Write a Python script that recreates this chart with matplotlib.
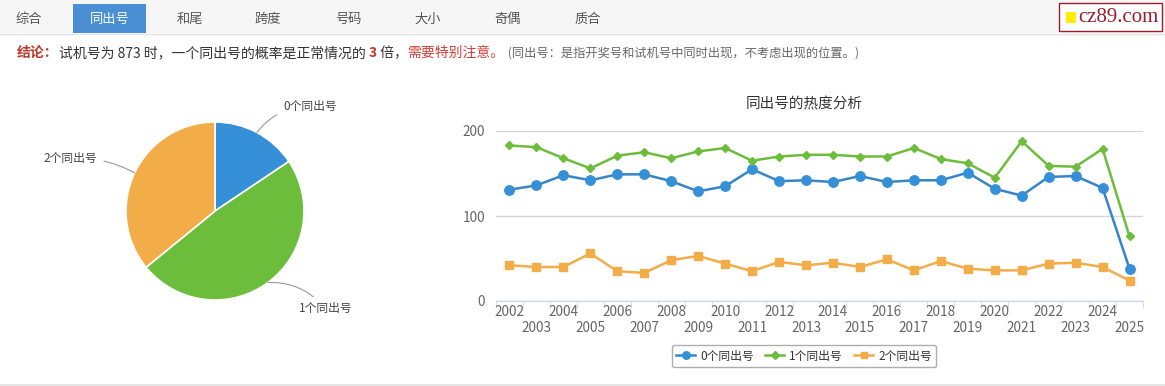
import matplotlib
matplotlib.use("Agg")
import matplotlib.pyplot as plt
from matplotlib.patches import Rectangle
from matplotlib.lines import Line2D
import matplotlib.transforms as mtrans
import numpy as np

plt.rcParams['font.family'] = ['Noto Sans CJK SC', 'DejaVu Sans']

# ---- data ----
tabs = ['综合', '同出号', '和尾', '跨度', '号码', '大小', '奇偶', '质合']
tab_x = [29, 110, 190, 268, 348, 428, 508, 588]

pie_labels = ['0个同出号', '1个同出号', '2个同出号']
pie_values = [15.6, 48.5, 35.9]

years = [str(y) for y in range(2002, 2026)]
same0 = [131, 136, 148, 142, 149, 149, 141, 129, 135, 155, 141, 142,
         140, 147, 140, 142, 142, 151, 132, 124, 146, 147, 133, 38]
same1 = [183, 181, 168, 156, 171, 175, 168, 176, 180, 165, 170, 172,
         172, 170, 170, 180, 167, 162, 145, 188, 159, 158, 179, 76]
same2 = [42, 40, 40, 56, 35, 33, 48, 53, 44, 35, 46, 42,
         45, 40, 49, 36, 47, 38, 36, 36, 44, 45, 40, 24]

BLUE = '#3590d8'
GREEN = '#6dbd3d'
ORANGE = '#f3ad48'
W, H = 1165, 386


def fx(x):
    return x / W


def fy(y):
    return 1 - y / H


fig = plt.figure(figsize=(W / 100, H / 100), dpi=100)
fig.patch.set_facecolor('white')

# ---- tab bar ----
fig.patches.append(Rectangle((0, fy(33)), 1, 33 / H, transform=fig.transFigure,
                             facecolor='#f6f6f6', edgecolor='none', zorder=0))
fig.add_artist(Line2D([0, 1], [fy(33.5), fy(33.5)], color='#e2e2e2', lw=1))
fig.add_artist(Line2D([0, 1], [fy(385), fy(385)], color='#e2e2e2', lw=1.2))
fig.patches.append(Rectangle((fx(73), fy(33)), 73 / W, 29 / H, transform=fig.transFigure,
                             facecolor='#4a8fd4', edgecolor='none', zorder=1))
for name, x in zip(tabs, tab_x):
    fig.text(fx(x), fy(19), name, ha='center', va='center', fontsize=9.5,
             color='white' if name == '同出号' else '#555555', zorder=3)

# logo
fig.patches.append(Rectangle((fx(1059), fy(31)), 103 / W, 28 / H, transform=fig.transFigure,
                             facecolor='white', edgecolor='#9b1c2c', lw=1, zorder=2))
fig.patches.append(Rectangle((fx(1066), fy(23)), 10 / W, 11 / H, transform=fig.transFigure,
                             facecolor='#ffee00', edgecolor='none', zorder=3))
fig.text(fx(1078), fy(17), 'cz89.com', ha='left', va='center', fontsize=15,
         family='Liberation Serif', color='#9b1c2c', zorder=4)

# ---- conclusion line ----
renderer = fig.canvas.get_renderer()
pieces = [
    ('结论：', '#c0392b', 'bold', 10),
    ('试机号为 873 时，一个同出号的概率是正常情况的 ', '#333333', 'normal', 10),
    ('3', '#c0392b', 'bold', 10),
    (' 倍，', '#333333', 'normal', 10),
    ('需要特别注意。', '#d0403a', 'normal', 10),
    (' (同出号：是指开奖号和试机号中同时出现，不考虑出现的位置。)', '#666666', 'normal', 8.8),
]
xpos = fx(17)
for s, c, w, fs in pieces:
    t = fig.text(xpos, fy(53), s, ha='left', va='center', color=c, fontweight=w, fontsize=fs)
    bb = t.get_window_extent(renderer=renderer)
    xpos += bb.width / W

# ---- pie ----
cx, cy, r = 215, 211, 89
pax = fig.add_axes([fx(cx - r), fy(cy + r), 2 * r / W, 2 * r / H])
wedges, _ = pax.pie(pie_values, colors=[BLUE, GREEN, ORANGE], startangle=90,
                    counterclock=False, radius=1,
                    wedgeprops=dict(edgecolor='white', linewidth=1.2))
pax.set_xlim(-1, 1)
pax.set_ylim(-1, 1)
pax.set_aspect('equal')
pax.axis('off')

label_offsets = [(19, 18.5), (22, -19), (-27, 10)]
for wdg, lab, off in zip(wedges, pie_labels, label_offsets):
    ang = np.deg2rad((wdg.theta1 + wdg.theta2) / 2)
    px, py = np.cos(ang), np.sin(ang)
    ha = 'left' if px > 0 else 'right'
    pax.annotate(lab, xy=(px, py), xytext=off, textcoords='offset points',
                 ha=ha, va='center', fontsize=8.5, color='#444444', annotation_clip=False,
                 arrowprops=dict(arrowstyle='-', color='#999999', lw=0.8,
                                 connectionstyle='arc3,rad=0.25' if px > 0 else 'arc3,rad=-0.15',
                                 shrinkA=3, shrinkB=0))

# ---- line chart ----
ax = fig.add_axes([fx(496), fy(301), (1143 - 496) / W, (301 - 131) / H])
x = np.arange(len(years))
ax.plot(x, same0, color='#3585c8', lw=1.8, marker='o', ms=6.8, mfc=BLUE, mec=BLUE,
        label='0个同出号', clip_on=False, zorder=3)
ax.plot(x, same1, color=GREEN, lw=1.8, marker='D', ms=4.5, mfc=GREEN, mec=GREEN,
        label='1个同出号', clip_on=False, zorder=3)
ax.plot(x, same2, color=ORANGE, lw=1.8, marker='s', ms=5.8, mfc=ORANGE, mec=ORANGE,
        label='2个同出号', clip_on=False, zorder=3)

ax.set_xlim(-0.5, len(years) - 0.5)
ax.set_ylim(0, 200)
ax.set_yticks([0, 100, 200])
ax.grid(axis='y', color='#d6d6d6', lw=1)
ax.set_axisbelow(True)
for sp in ['top', 'right', 'left']:
    ax.spines[sp].set_visible(False)
ax.spines['bottom'].set_color('#ccd6eb')
ax.set_xticks(x)
ax.set_xticklabels([])
ax.set_xticks(np.arange(-0.5, len(years)), minor=True)
ax.tick_params(axis='x', which='major', length=0)
ax.tick_params(axis='x', which='minor', length=5, color='#ccd6eb')
ax.tick_params(axis='y', length=0, labelsize=9.8, labelcolor='#666666', pad=8)

# staggered year labels: even years on the first row, odd years below
trans = mtrans.blended_transform_factory(ax.transData, ax.transAxes)
row_h = 16 / (301 - 131)
for i, yr in enumerate(years):
    yrow = -10.5 / (301 - 131) - (i % 2) * row_h
    ax.text(i, yrow, yr, transform=trans, ha='center', va='center',
            fontsize=9.8, color='#666666')

fig.text(fx(804), fy(104), '同出号的热度分析', ha='center', va='center',
         fontsize=10.5, color='#333333')

leg = fig.legend(loc='center', bbox_to_anchor=(fx(804), fy(356)), ncol=3, fontsize=8.5,
                 frameon=True, fancybox=True, edgecolor='#999999', handlelength=1.6,
                 columnspacing=1.0, handletextpad=0.4, borderpad=0.4, markerscale=0.8)
for t in leg.get_texts():
    t.set_color('#333333')

fig.savefig('out.png', dpi=100)
